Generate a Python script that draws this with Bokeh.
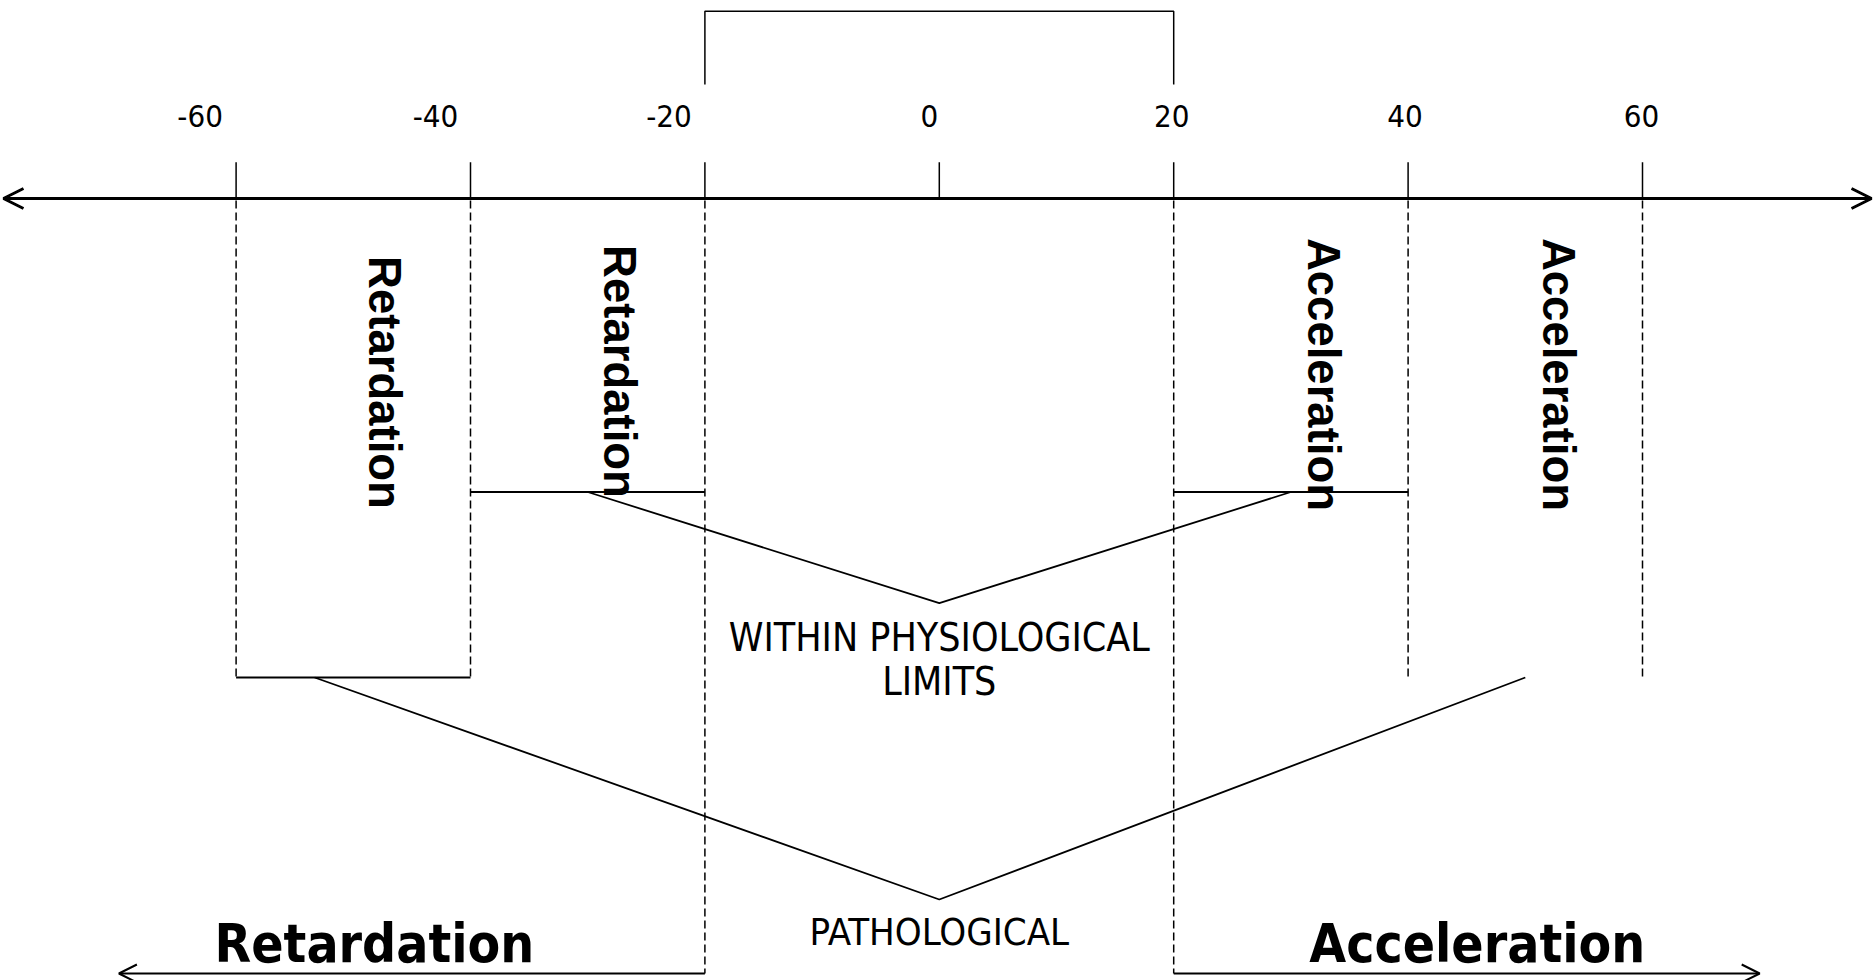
import numpy as np
from bokeh.plotting import figure
from bokeh.models import Range1d, Arrow, OpenHead
from bokeh.core.properties import value
from bokeh.embed import file_html
from bokeh.resources import INLINE

# ---------------- data (diagram values) ----------------
ticks = [-60, -40, -20, 0, 20, 40, 60]
tick_labels = ["-60", "-40", "-20", "0", "20", "40", "60"]
normal_range = [-20, 20]                    # bracket on top: within physiological limits
zone_edges = [-60, -40, -20, 20, 40, 60]    # dashed boundaries
inner_band_left = [-40, -20]
inner_band_right = [20, 40]
outer_band_left = [-60, -40]
inner_v_x = [-30, 0, 30]
outer_v_x = [-53.3, 0, 50]
axis_extent = [-80, 80]
bottom_arrow_ends = [-70, 70]
zone_label_x = [-47.3, -27.3, 32.8, 52.8]
zone_labels = ["Retardation", "Retardation", "Acceleration", "Acceleration"]
bottom_labels = ["Retardation", "Acceleration"]
bottom_label_x = [-48.2, 45.9]
center_labels = ["WITHIN PHYSIOLOGICAL", "LIMITS"]
path_label = ["PATHOLOGICAL"]

# ---------------- layout / style ----------------
W, H = 1874, 980
SCALE = 11.72          # px per unit
ZERO_PX = 938.8        # x pixel of 0 inside the figure
x_lo = -ZERO_PX / SCALE
x_hi = (W - ZERO_PX) / SCALE

BRACKET_TOP = 10.7
BRACKET_BOT = 84
TICK_TOP = 161.7
AXIS_Y = 198
INNER_LEVEL = 491.5
INNER_VERTEX = 602.7
OUTER_LEVEL = 677
OUTER_VERTEX = 899
BOTTOM_Y = 973
tick_label_dx = [-36, -35, -36, -10, -2, -3, -1]

# text baselines (corrected for renderer baseline offset of ~0.35 em)
def base(y, size):
    return y - 0.35 * size

COND = value("DejaVu Sans Condensed")
ARIAL = value("Liberation Sans")

p = figure(width=W, height=H, x_range=Range1d(x_lo, x_hi), y_range=Range1d(H, 0),
           x_axis_type=None, y_axis_type=None, output_backend="svg",
           toolbar_location=None, min_border=0, outline_line_color=None)
p.grid.visible = False

# top bracket
p.line([normal_range[0], normal_range[0], normal_range[1], normal_range[1]],
       [BRACKET_BOT, BRACKET_TOP, BRACKET_TOP, BRACKET_BOT], line_color="black", line_width=1.5)

# tick labels
for xv, lab, dx in zip(ticks, tick_labels, tick_label_dx):
    p.text(x=[xv], y=[base(126, 31)], text=[lab], x_offset=dx, text_align="center",
           text_baseline="alphabetic", text_font=COND, text_font_size="31px", text_color="black")

# tick marks
p.segment(x0=ticks, y0=[TICK_TOP] * len(ticks), x1=ticks, y1=[AXIS_Y] * len(ticks),
          line_color="black", line_width=1.5)

# main axis (double arrow)
a_lo = max(axis_extent[0], x_lo + 3 / SCALE)
a_hi = min(axis_extent[1], x_hi - 3 / SCALE)
p.add_layout(Arrow(start=OpenHead(size=20, line_width=3), end=OpenHead(size=20, line_width=3),
                   x_start=a_lo, y_start=AXIS_Y, x_end=a_hi, y_end=AXIS_Y, line_width=3))

# dashed boundaries
y_end = [BOTTOM_Y if e in normal_range else OUTER_LEVEL for e in zone_edges]
p.segment(x0=zone_edges, y0=[AXIS_Y + 2] * len(zone_edges), x1=zone_edges, y1=y_end,
          line_color="black", line_width=1.5, line_dash="8 4")

# horizontal brackets
p.line(inner_band_left, [INNER_LEVEL] * 2, line_color="black", line_width=2)
p.line(inner_band_right, [INNER_LEVEL] * 2, line_color="black", line_width=2)
p.line(outer_band_left, [OUTER_LEVEL] * 2, line_color="black", line_width=2)

# V shapes
p.line(inner_v_x, [INNER_LEVEL, INNER_VERTEX, INNER_LEVEL], line_color="black", line_width=1.8)
p.line(outer_v_x, [OUTER_LEVEL, OUTER_VERTEX, OUTER_LEVEL], line_color="black", line_width=1.8)

# rotated zone labels
zone_y = [382, 371, 374, 374]
p.text(x=zone_label_x, y=zone_y, text=zone_labels, angle=-np.pi / 2, text_align="center",
       text_baseline="middle", text_font=ARIAL, text_font_style="bold",
       text_font_size="45.5px", text_color="black")

# centre labels
p.text(x=[0, 0], y=[base(651, 39), base(695, 39)], text=center_labels, text_align="center",
       text_baseline="alphabetic", text_font=COND, text_font_size="39px", text_color="black")
p.text(x=[0], y=[base(945, 38)], text=path_label, text_align="center", text_baseline="alphabetic",
       text_font=COND, text_font_size="38px", text_color="black")

# bottom arrows and labels
p.add_layout(Arrow(end=OpenHead(size=18, line_width=2), x_start=normal_range[0], y_start=BOTTOM_Y,
                   x_end=bottom_arrow_ends[0], y_end=BOTTOM_Y, line_width=2))
p.add_layout(Arrow(end=OpenHead(size=18, line_width=2), x_start=normal_range[1], y_start=BOTTOM_Y,
                   x_end=bottom_arrow_ends[1], y_end=BOTTOM_Y, line_width=2))
p.text(x=bottom_label_x, y=[base(962, 53)] * 2, text=bottom_labels, text_align="center",
       text_baseline="alphabetic", text_font=COND, text_font_style="bold",
       text_font_size="53px", text_color="black")

open("out.html", "w").write(file_html(p, INLINE))
